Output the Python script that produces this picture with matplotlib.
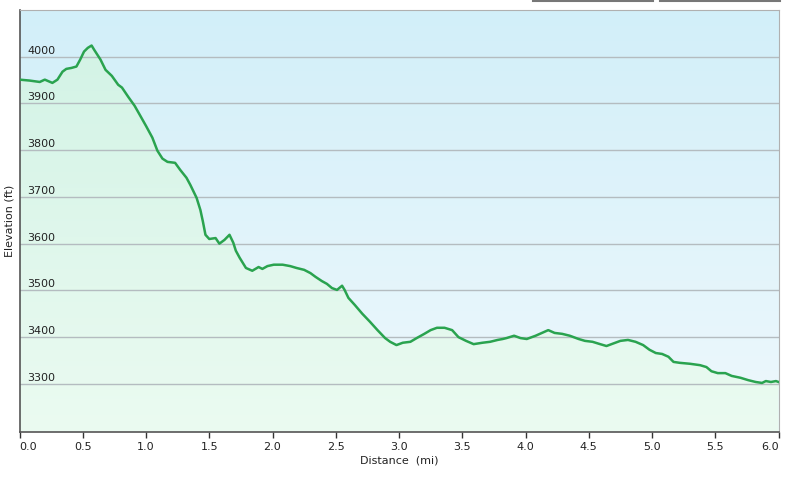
import numpy as np
import matplotlib
matplotlib.use("Agg")
import matplotlib.pyplot as plt
import matplotlib.transforms as mtransforms
from matplotlib.lines import Line2D
from matplotlib.colors import LinearSegmentedColormap

# elevation profile
dist_mi = [0.0, 0.08, 0.16, 0.2, 0.26, 0.30, 0.34, 0.37, 0.41, 0.45, 0.48, 0.51, 0.54, 0.57,
           0.59, 0.64, 0.68, 0.73, 0.78, 0.81, 0.86, 0.91, 0.95, 1.0, 1.05, 1.09, 1.13, 1.17,
           1.23, 1.27, 1.32, 1.35, 1.40, 1.43, 1.45, 1.47, 1.50, 1.55, 1.58, 1.62, 1.66, 1.69,
           1.71, 1.74, 1.79, 1.84, 1.89, 1.92, 1.96, 2.01, 2.08, 2.14, 2.19, 2.25, 2.30, 2.34,
           2.39, 2.43, 2.47, 2.51, 2.55, 2.57, 2.60, 2.65, 2.71, 2.77, 2.83, 2.89, 2.93, 2.98,
           3.03, 3.09, 3.14, 3.20, 3.25, 3.30, 3.36, 3.42, 3.47, 3.53, 3.59, 3.66, 3.72, 3.78,
           3.82, 3.85, 3.91, 3.96, 4.01, 4.08, 4.13, 4.18, 4.23, 4.29, 4.35, 4.42, 4.47, 4.53,
           4.59, 4.64, 4.68, 4.75, 4.81, 4.87, 4.93, 4.98, 5.03, 5.08, 5.13, 5.17, 5.22, 5.30,
           5.38, 5.43, 5.47, 5.52, 5.58, 5.63, 5.70, 5.76, 5.82, 5.87, 5.90, 5.94, 5.98, 6.0]
elev_ft = [3951, 3949, 3946, 3951, 3944, 3951, 3968, 3974, 3976, 3979, 3994, 4011, 4019, 4024,
           4015, 3994, 3972, 3959, 3940, 3934, 3914, 3895, 3876, 3852, 3827, 3799, 3782, 3775,
           3773, 3758, 3741, 3726, 3698, 3672, 3647, 3619, 3610, 3612, 3600, 3608, 3619, 3602,
           3585, 3570, 3548, 3542, 3550, 3546, 3552, 3555, 3555, 3552, 3548, 3544, 3537, 3529,
           3520, 3514, 3505, 3501, 3510, 3501, 3484, 3469, 3450, 3433, 3415, 3398, 3390, 3383,
           3388, 3390, 3398, 3407, 3415, 3420, 3420, 3415, 3400, 3392, 3385, 3388, 3390, 3394,
           3396, 3398, 3403, 3398, 3396, 3403, 3409, 3415, 3409, 3407, 3403, 3396, 3392, 3390,
           3385, 3381, 3385, 3392, 3394, 3390, 3383, 3373, 3366, 3364, 3358, 3347, 3345, 3343,
           3340, 3336, 3327, 3323, 3323, 3317, 3313, 3308, 3304, 3302, 3306, 3304, 3306, 3304]

x_ticks = np.arange(0, 6.01, 0.5)
y_ticks = [3300, 3400, 3500, 3600, 3700, 3800, 3900, 4000]
y_min, y_max = 3197, 4100

W, H = 785, 478
fig = plt.figure(figsize=(W / 100, H / 100), dpi=100)
ax = fig.add_axes([19.5 / W, (H - 432) / H, 759 / W, 422 / H])
ax.set_xlim(0, 6.0)
ax.set_ylim(y_min, y_max)

# background gradient (blue at top, paler lower down)
grad = np.linspace(0, 1, 256).reshape(-1, 1)
bg = LinearSegmentedColormap.from_list("bg", ["#d2eff9", "#eef8fc"])
ax.imshow(grad, cmap=bg, aspect="auto", origin="upper",
          extent=[0, 6.0, y_min, y_max], zorder=0)

# green gradient under the profile
fill = ax.fill_between(dist_mi, elev_ft, y_min, color="none", zorder=1)
fg = LinearSegmentedColormap.from_list("fg", ["#d3f3e6", "#ebfbf1"])
im = ax.imshow(grad, cmap=fg, aspect="auto", origin="upper",
               extent=[0, 6.0, y_min, 4030], zorder=1)
im.set_clip_path(fill.get_paths()[0], transform=ax.transData)

# y labels sit inside the plot, just above each gridline
label_tr = ax.get_yaxis_transform() + mtransforms.ScaledTranslation(8 / 100, 1 / 100, fig.dpi_scale_trans)
for yt in y_ticks:
    ax.axhline(yt, color="#b4bcc0", lw=1, zorder=2)
    ax.text(0, yt, str(yt), transform=label_tr, fontsize=8, color="#222222",
            va="bottom", ha="left", zorder=3)

ax.plot(dist_mi, elev_ft, color="#2aa34f", lw=1.8, zorder=4)

ax.set_yticks([])
ax.set_xticks(x_ticks)
ax.set_xticklabels([f"{t:.1f}" for t in x_ticks], fontsize=8, color="#222222")
ax.tick_params(axis="x", direction="out", length=4, width=1, color="#333333", pad=3)
xlabels = ax.get_xticklabels()
xlabels[0].set_ha("left")
xlabels[-1].set_ha("right")

for side in ["left", "bottom"]:
    ax.spines[side].set_color("#555555")
    ax.spines[side].set_linewidth(1.2)
for side in ["top", "right"]:
    ax.spines[side].set_color("#b0b0b0")

ax.set_xlabel("Distance  (mi)", fontsize=8, color="#222222", labelpad=3)
fig.text(10 / W, 1 - 221 / H, "Elevation (ft)", rotation=90, fontsize=8,
         color="#222222", ha="center", va="center")

# two small tab bars at top right
fig.add_artist(Line2D([533 / W, 653 / W], [1 - 1 / H, 1 - 1 / H], color="#777777", lw=1.5))
fig.add_artist(Line2D([660 / W, 780 / W], [1 - 1 / H, 1 - 1 / H], color="#777777", lw=1.5))

fig.savefig("out.png", dpi=100, facecolor="white")
